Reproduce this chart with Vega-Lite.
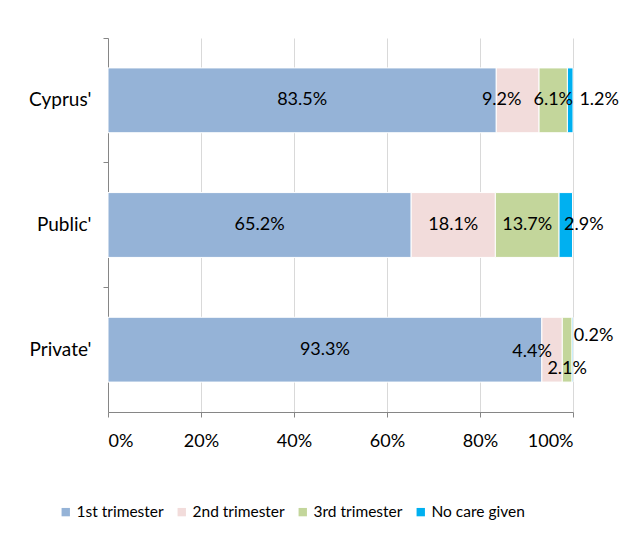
{
  "$schema": "https://vega.github.io/schema/vega-lite/v6.json",
  "width": 465,
  "height": 374,
  "autosize": {"type": "none"},
  "padding": {"left": 108, "top": 38, "right": 57, "bottom": 128},
  "background": "white",
  "config": {
    "font": "Lato",
    "view": {"stroke": null},
    "text": {"font": "Lato", "fontSize": 18, "color": "#000000"}
  },
  "data": {
    "values": [
      {"group": "Cyprus'", "stage": "1st trimester", "value": 0.835},
      {"group": "Cyprus'", "stage": "2nd trimester", "value": 0.092},
      {"group": "Cyprus'", "stage": "3rd trimester", "value": 0.061},
      {"group": "Cyprus'", "stage": "No care given", "value": 0.012},
      {"group": "Public'", "stage": "1st trimester", "value": 0.652},
      {"group": "Public'", "stage": "2nd trimester", "value": 0.181},
      {"group": "Public'", "stage": "3rd trimester", "value": 0.137},
      {"group": "Public'", "stage": "No care given", "value": 0.029},
      {"group": "Private'", "stage": "1st trimester", "value": 0.933},
      {"group": "Private'", "stage": "2nd trimester", "value": 0.044},
      {"group": "Private'", "stage": "3rd trimester", "value": 0.021},
      {"group": "Private'", "stage": "No care given", "value": 0.002}
    ]
  },
  "encoding": {
    "y": {
      "field": "group",
      "type": "nominal",
      "sort": ["Cyprus'", "Public'", "Private'"],
      "scale": {"paddingInner": 0.48, "paddingOuter": 0.24},
      "axis": {
        "title": null,
        "bandPosition": -0.4615,
        "labelFontSize": 19,
        "labelColor": "#000000",
        "labelPadding": 12,
        "ticks": true,
        "tickSize": 5,
        "tickColor": "#868686",
        "domainColor": "#868686",
        "grid": false
      }
    },
    "order": {"field": "stage", "type": "ordinal", "sort": "ascending"}
  },
  "layer": [
    {
      "mark": {"type": "bar", "stroke": "#FFFFFF", "strokeWidth": 1},
      "encoding": {
        "x": {
          "field": "value",
          "type": "quantitative",
          "stack": "zero",
          "scale": {"domain": [0, 1], "nice": false},
          "axis": {
            "title": null,
            "values": [0, 0.2, 0.4, 0.6, 0.8, 1],
            "format": ".0%",
            "labelFontSize": 18,
            "labelColor": "#000000",
            "labelPadding": 15,
            "tickSize": 5,
            "tickColor": "#868686",
            "domainColor": "#868686",
            "grid": true,
            "gridColor": "#D9D9D9"
          }
        },
        "color": {
          "field": "stage",
          "type": "nominal",
          "scale": {
            "domain": ["1st trimester", "2nd trimester", "3rd trimester", "No care given"],
            "range": ["#95B3D7", "#F2DCDB", "#C3D69B", "#00B0F0"]
          },
          "legend": {
            "title": null,
            "orient": "none",
            "legendX": -50,
            "legendY": 466,
            "direction": "horizontal",
            "symbolType": "square",
            "symbolSize": 70,
            "symbolStrokeWidth": 0,
            "labelFontSize": 15.5,
            "labelColor": "#000000",
            "labelOffset": 3,
            "columnPadding": 10
          }
        }
      }
    },
    {
      "encoding": {
        "x": {"field": "value", "type": "quantitative", "stack": "zero", "bandPosition": 0.5}
      },
      "layer": [
        {
          "mark": {"type": "text"},
          "encoding": {
            "text": {
              "condition": {
                "test": "(datum.group == 'Cyprus\\'' && datum.stage == '1st trimester') || (datum.group == 'Cyprus\\'' && datum.stage == '3rd trimester') || (datum.group == 'Public\\'' && datum.stage != 'No care given') || (datum.group == 'Private\\'' && datum.stage == '1st trimester')",
                "field": "value",
                "type": "quantitative",
                "format": ".1%"
              },
              "value": ""
            }
          }
        },
        {
          "mark": {"type": "text", "dx": -16},
          "encoding": {
            "text": {
              "condition": {"test": "datum.group == 'Cyprus\\'' && datum.stage == '2nd trimester'", "field": "value", "type": "quantitative", "format": ".1%"},
              "value": ""
            }
          }
        },
        {
          "mark": {"type": "text", "dx": 29},
          "encoding": {
            "text": {
              "condition": {"test": "datum.group == 'Cyprus\\'' && datum.stage == 'No care given'", "field": "value", "type": "quantitative", "format": ".1%"},
              "value": ""
            }
          }
        },
        {
          "mark": {"type": "text", "dx": 18},
          "encoding": {
            "text": {
              "condition": {"test": "datum.group == 'Public\\'' && datum.stage == 'No care given'", "field": "value", "type": "quantitative", "format": ".1%"},
              "value": ""
            }
          }
        },
        {
          "mark": {"type": "text", "dx": -20, "dy": 2},
          "encoding": {
            "text": {
              "condition": {"test": "datum.group == 'Private\\'' && datum.stage == '2nd trimester'", "field": "value", "type": "quantitative", "format": ".1%"},
              "value": ""
            }
          }
        },
        {
          "mark": {"type": "text", "dx": 0, "dy": 19},
          "encoding": {
            "text": {
              "condition": {"test": "datum.group == 'Private\\'' && datum.stage == '3rd trimester'", "field": "value", "type": "quantitative", "format": ".1%"},
              "value": ""
            }
          }
        },
        {
          "mark": {"type": "text", "dx": 21, "dy": -14},
          "encoding": {
            "text": {
              "condition": {"test": "datum.group == 'Private\\'' && datum.stage == 'No care given'", "field": "value", "type": "quantitative", "format": ".1%"},
              "value": ""
            }
          }
        }
      ]
    }
  ]
}
